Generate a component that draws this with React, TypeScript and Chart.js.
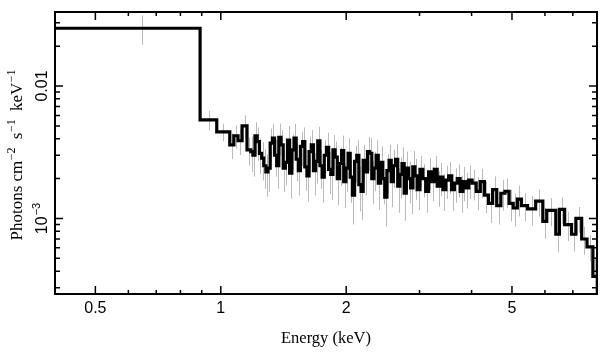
import React, { useEffect, useRef } from "react";
import { Chart, registerables } from "chart.js";

Chart.register(...registerables);

// Bin edges in keV (n+1 entries): left edge of every channel group plus the final right edge
const binEdges = [
  0.4, 0.892, 0.978, 1.051, 1.075, 1.1, 1.125, 1.156,
  1.18, 1.194, 1.208, 1.223, 1.238, 1.253, 1.268, 1.283, 1.298, 1.314,
  1.33, 1.346, 1.362, 1.378, 1.395, 1.412, 1.429, 1.446, 1.463, 1.481,
  1.499, 1.517, 1.535, 1.553, 1.572, 1.591, 1.61, 1.629, 1.649, 1.669,
  1.689, 1.709, 1.73, 1.751, 1.772, 1.793, 1.815, 1.837, 1.859, 1.881,
  1.904, 1.927, 1.95, 1.973, 1.997, 2.021, 2.045, 2.07, 2.095, 2.12,
  2.145, 2.171, 2.197, 2.223, 2.25, 2.277, 2.304, 2.332, 2.36, 2.388,
  2.417, 2.446, 2.475, 2.505, 2.535, 2.565, 2.596, 2.627, 2.659, 2.691,
  2.723, 2.756, 2.789, 2.822, 2.856, 2.89, 2.925,
  2.96, 3.007, 3.055, 3.104, 3.154, 3.204, 3.255, 3.307, 3.36, 3.414,
  3.469, 3.524, 3.58, 3.637, 3.695, 3.754, 3.814, 3.875, 3.937,
  4.011, 4.103, 4.197, 4.294, 4.393, 4.494, 4.597, 4.703, 4.811, 4.922, 5.035, 5.151,
  5.269, 5.45, 5.7, 5.93, 6.06, 6.37, 6.5, 6.69, 6.95, 7.12, 7.35, 7.57, 7.82,
  8.0,
];

// Photons cm^-2 s^-1 keV^-1 for each bin
const flux = [
  0.0273, 0.00555, 0.00451, 0.0036, 0.00421, 0.00386, 0.005, 0.0033,
  0.0032, 0.003, 0.0042, 0.0038, 0.0031, 0.00285, 0.0025, 0.00225, 0.0024, 0.0037,
  0.00405, 0.003, 0.0025, 0.0041, 0.0036, 0.0024, 0.00265, 0.0039, 0.0022, 0.0033,
  0.00405, 0.0028, 0.0023, 0.0035, 0.0038, 0.00245, 0.0021, 0.0032, 0.0036, 0.0023,
  0.0027, 0.00385, 0.0025, 0.00205, 0.003, 0.00345, 0.00235, 0.00215, 0.0033, 0.0029,
  0.002, 0.0026, 0.00325, 0.0019, 0.0024, 0.0031, 0.00205, 0.0015, 0.0027, 0.003,
  0.0018, 0.0016, 0.00275, 0.00225, 0.0032, 0.0031, 0.002, 0.0024, 0.003, 0.00185,
  0.00265, 0.002, 0.00145, 0.0023, 0.00275, 0.0019, 0.0025, 0.0028, 0.00175, 0.00215,
  0.0026, 0.00155, 0.0024, 0.002, 0.0017, 0.00245, 0.0021,
  0.00165, 0.00235, 0.002, 0.0016, 0.00225, 0.0019, 0.00235, 0.00175, 0.00205, 0.00165,
  0.00195, 0.0021, 0.00165, 0.00185, 0.002, 0.0016, 0.0019, 0.0017, 0.00195,
  0.00185, 0.0016, 0.0019, 0.0015, 0.0013, 0.00165, 0.00125, 0.00155, 0.0016, 0.0013, 0.0012, 0.0014,
  0.00125, 0.00118, 0.00135, 0.00095, 0.00115, 0.00076, 0.00117, 0.0009, 0.00076, 0.001, 0.0007, 0.00061, 0.000366,
];

// relative 1-sigma error of each bin
const relErr = [
  0.25, 0.17, 0.15, 0.22, 0.2, 0.22, 0.2, 0.24,
  0.3, 0.31, 0.27, 0.28, 0.3, 0.32, 0.33, 0.35, 0.34, 0.29,
  0.28, 0.31, 0.33, 0.27, 0.29, 0.34, 0.33, 0.28, 0.36, 0.3,
  0.28, 0.32, 0.35, 0.29, 0.28, 0.34, 0.36, 0.3, 0.29, 0.35,
  0.32, 0.28, 0.33, 0.36, 0.3, 0.29, 0.35, 0.36, 0.29, 0.31,
  0.37, 0.32, 0.3, 0.37, 0.34, 0.3, 0.36, 0.4, 0.31, 0.3,
  0.37, 0.39, 0.31, 0.34, 0.29, 0.3, 0.36, 0.33, 0.3, 0.37,
  0.32, 0.36, 0.4, 0.33, 0.31, 0.36, 0.32, 0.3, 0.37, 0.34,
  0.32, 0.38, 0.33, 0.35, 0.37, 0.32, 0.34,
  0.3, 0.26, 0.28, 0.31, 0.27, 0.29, 0.26, 0.3, 0.28, 0.31,
  0.28, 0.27, 0.31, 0.29, 0.28, 0.31, 0.29, 0.3, 0.28,
  0.26, 0.28, 0.25, 0.27, 0.29, 0.26, 0.28, 0.26, 0.25, 0.27, 0.28, 0.26,
  0.24, 0.25, 0.23, 0.26, 0.24, 0.27, 0.23, 0.25, 0.26, 0.22, 0.24, 0.22, 0.4,
];

const xMin = 0.4;
const xMax = 8.0;
const yMin = 2.69e-4;
const yMax = 0.0362;

const xMajorTicks = [0.5, 1, 2, 5];
const xTickLabels = ["0.5", "1", "2", "5"];
const xMinorTicks = [0.6, 0.7, 0.8, 0.9, 3, 4, 6, 7];
const yMajorTicks = [0.001, 0.01];
const yMinorTicks = [
  3e-4, 4e-4, 5e-4, 6e-4, 7e-4, 8e-4, 9e-4,
  2e-3, 3e-3, 4e-3, 5e-3, 6e-3, 7e-3, 8e-3, 9e-3,
  0.02, 0.03,
];

const xTitle = "Energy (keV)";

const SANS = "'Liberation Sans', Arial, sans-serif";
const SERIF = "'Liberation Serif', 'Times New Roman', serif";

type Run = { text: string; size: number; raise: number; font: string; gap?: number };

function drawRuns(ctx: CanvasRenderingContext2D, runs: Run[], cx: number, baseline: number) {
  let total = 0;
  for (const r of runs) {
    ctx.font = `${r.size}px ${r.font}`;
    total += ctx.measureText(r.text).width + (r.gap || 0);
  }
  let x = cx - total / 2;
  ctx.textAlign = "left";
  ctx.textBaseline = "alphabetic";
  for (const r of runs) {
    ctx.font = `${r.size}px ${r.font}`;
    ctx.fillText(r.text, x, baseline - r.raise);
    x += ctx.measureText(r.text).width + (r.gap || 0);
  }
}

const framePlugin = {
  id: "specFrame",
  beforeDatasetsDraw(chart: any) {
    const { ctx, chartArea, scales } = chart;
    const xs = scales.x;
    const ys = scales.y;
    ctx.save();
    ctx.beginPath();
    ctx.rect(chartArea.left, chartArea.top, chartArea.right - chartArea.left, chartArea.bottom - chartArea.top);
    ctx.clip();
    ctx.strokeStyle = "#bababa";
    ctx.lineWidth = 1;
    for (let i = 0; i < flux.length; i++) {
      const lo = binEdges[i];
      const hi = binEdges[i + 1];
      const xc = (lo + hi) / 2;
      const f = flux[i];
      const e = f * relErr[i];
      const px = Math.round(xs.getPixelForValue(xc)) + 0.5;
      const y1 = ys.getPixelForValue(f + e);
      const y2 = ys.getPixelForValue(Math.max(f - e, yMin * 0.5));
      ctx.beginPath();
      ctx.moveTo(px, y1);
      ctx.lineTo(px, y2);
      ctx.stroke();
    }
    ctx.restore();
  },
  afterDatasetsDraw(chart: any) {
    const { ctx, chartArea, scales } = chart;
    const xs = scales.x;
    const ys = scales.y;
    const L = chartArea.left;
    const R = chartArea.right;
    const T = chartArea.top;
    const B = chartArea.bottom;
    ctx.save();
    ctx.strokeStyle = "#000";
    ctx.fillStyle = "#000";
    ctx.lineWidth = 1.5;
    const xt = (v: number, len: number) => {
      const p = xs.getPixelForValue(v);
      ctx.beginPath();
      ctx.moveTo(p, B);
      ctx.lineTo(p, B - len);
      ctx.moveTo(p, T);
      ctx.lineTo(p, T + len);
      ctx.stroke();
    };
    const yt = (v: number, len: number) => {
      const p = ys.getPixelForValue(v);
      ctx.beginPath();
      ctx.moveTo(L, p);
      ctx.lineTo(L + len, p);
      ctx.moveTo(R, p);
      ctx.lineTo(R - len, p);
      ctx.stroke();
    };
    xMajorTicks.forEach((v) => xt(v, 8));
    xMinorTicks.forEach((v) => xt(v, 4));
    yMajorTicks.forEach((v) => yt(v, 8));
    yMinorTicks.forEach((v) => yt(v, 5));
    ctx.lineWidth = 2;
    ctx.strokeRect(L, T, R - L, B - T);

    ctx.font = `16px ${SANS}`;
    ctx.textAlign = "center";
    ctx.textBaseline = "alphabetic";
    xMajorTicks.forEach((v, i) => {
      ctx.fillText(xTickLabels[i], xs.getPixelForValue(v), 313);
    });

    const yLabelRuns: Run[][] = [
      [
        { text: "10", size: 16, raise: 0, font: SANS, gap: 1 },
        { text: "\u22123", size: 11, raise: 7, font: SANS },
      ],
      [{ text: "0.01", size: 16, raise: 0, font: SANS }],
    ];
    yMajorTicks.forEach((v, i) => {
      const p = ys.getPixelForValue(v);
      ctx.save();
      ctx.translate(47, p);
      ctx.rotate(-Math.PI / 2);
      drawRuns(ctx, yLabelRuns[i], 0, 0);
      ctx.restore();
    });

    ctx.font = `16.5px ${SERIF}`;
    ctx.textAlign = "center";
    ctx.fillText(xTitle, (L + R) / 2, 343);

    const yTitleRuns: Run[] = [
      { text: "Photons cm", size: 17, raise: 0, font: SERIF, gap: 0.5 },
      { text: "\u22122", size: 12, raise: 7, font: SERIF, gap: 4 },
      { text: " s", size: 17, raise: 0, font: SERIF, gap: 0.5 },
      { text: "\u22121", size: 12, raise: 7, font: SERIF, gap: 4 },
      { text: " keV", size: 17, raise: 0, font: SERIF, gap: 0.5 },
      { text: "\u22121", size: 12, raise: 7, font: SERIF },
    ];
    ctx.save();
    ctx.translate(22, 155);
    ctx.rotate(-Math.PI / 2);
    drawRuns(ctx, yTitleRuns, 0, 0);
    ctx.restore();

    ctx.restore();
  },
};

export default function App() {
  const ref = useRef<HTMLCanvasElement | null>(null);
  useEffect(() => {
    if (!ref.current) return;
    const pts = binEdges.map((e, i) => ({ x: e, y: flux[Math.min(i, flux.length - 1)] }));
    const chart = new Chart(ref.current, {
      type: "scatter",
      data: {
        datasets: [
          {
            data: pts,
            showLine: true,
            stepped: "before",
            borderColor: "#000",
            borderWidth: 3.2,
            borderJoinStyle: "miter",
            borderCapStyle: "butt",
            pointRadius: 0,
            fill: false,
          } as any,
        ],
      },
      options: {
        animation: false,
        responsive: false,
        events: [],
        layout: { padding: { top: 12, right: 12, left: 0, bottom: 0 } },
        plugins: { legend: { display: false }, tooltip: { enabled: false } },
        scales: {
          x: {
            type: "logarithmic",
            min: xMin,
            max: xMax,
            grid: { display: false },
            border: { display: false },
            ticks: { display: false },
            afterFit: (s: any) => {
              s.height = 63;
            },
          },
          y: {
            type: "logarithmic",
            min: yMin,
            max: yMax,
            grid: { display: false },
            border: { display: false },
            ticks: { display: false },
            afterFit: (s: any) => {
              s.width = 55;
            },
          },
        },
      },
      plugins: [framePlugin],
    });
    return () => chart.destroy();
  }, []);
  return (
    <div style={{ position: "absolute", left: 0, top: 0, width: 609, height: 357, background: "#fff" }}>
      <canvas ref={ref} width={609} height={357} style={{ display: "block" }} />
    </div>
  );
}
